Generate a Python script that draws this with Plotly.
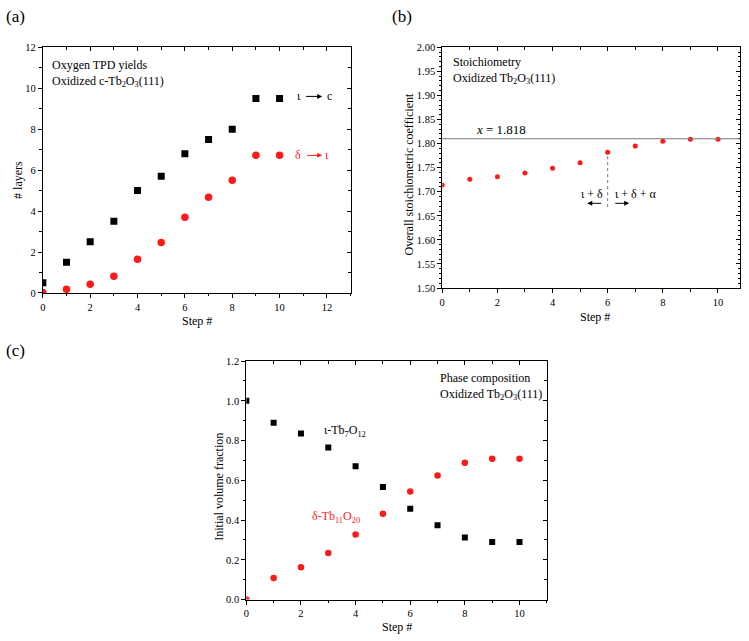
import plotly.graph_objects as go

# ---------------- data ----------------
steps = [0, 1, 2, 3, 4, 5, 6, 7, 8, 9, 10]
# (a) Oxygen TPD yields (# layers)
layers_iota_c = [0.5, 1.5, 2.5, 3.5, 5.0, 5.7, 6.8, 7.5, 8.0, 9.5, 9.5]
layers_delta_iota = [0.02, 0.18, 0.42, 0.82, 1.65, 2.47, 3.7, 4.68, 5.5, 6.73, 6.73]
# (b) Overall stoichiometric coefficient
stoich = [1.714, 1.726, 1.731, 1.739, 1.749, 1.760, 1.782, 1.795, 1.805, 1.809, 1.809]
stoich_ref = 1.81
# (c) Initial volume fraction
frac_iota = [1.0, 0.890, 0.836, 0.765, 0.671, 0.567, 0.457, 0.374, 0.312, 0.290, 0.290]
frac_delta = [0.0, 0.109, 0.163, 0.234, 0.328, 0.432, 0.544, 0.625, 0.689, 0.709, 0.709]

W, H = 749, 641
FONT = "Liberation Serif"
RED = "#ff1a1a"


def px(x):
    return x / W


def py(y):
    return 1 - y / H


fig = go.Figure()

# panel (a)
fig.add_trace(go.Scatter(x=steps, y=layers_iota_c, mode="markers", xaxis="x", yaxis="y",
                         marker=dict(symbol="square", size=7, color="black"), showlegend=False))
fig.add_trace(go.Scatter(x=steps, y=layers_delta_iota, mode="markers", xaxis="x", yaxis="y",
                         marker=dict(symbol="circle", size=7.5, color=RED), showlegend=False))
# panel (b)
fig.add_trace(go.Scatter(x=steps, y=stoich, mode="markers", xaxis="x2", yaxis="y2",
                         marker=dict(symbol="circle", size=5, color=RED), showlegend=False))
# panel (c)
fig.add_trace(go.Scatter(x=steps, y=frac_iota, mode="markers", xaxis="x3", yaxis="y3",
                         marker=dict(symbol="square", size=6, color="black"), showlegend=False))
fig.add_trace(go.Scatter(x=steps, y=frac_delta, mode="markers", xaxis="x3", yaxis="y3",
                         marker=dict(symbol="circle", size=6.5, color=RED), showlegend=False))

panels = [
    # main x, main y, overlay x, overlay y, xdomain, ydomain, xrange, yrange, xdtick, ydtick, xminor, yminor, yfmt
    ("x", "y", "x4", "y4", [px(40), px(349)], [py(293), py(43)], [0, 13], [0, 12], 2, 2, 1, 1, "d"),
    ("x2", "y2", "x5", "y5", [px(441), px(740)], [py(288), py(43)], [0, 10.8], [1.5, 2.0], 2, 0.05, 1, 0.01, ".2f"),
    ("x3", "y3", "x6", "y6", [px(244.3), px(546)], [py(605), py(362.3)], [0, 11], [0, 1.2], 2, 0.2, 1, 0.1, ".1f"),
]

tickfont = dict(family=FONT, size=10.5, color="black")
layout_axes = {}
for mx, my, ox, oy, xd, yd, xr, yr, xdt, ydt, xmn, ymn, yfmt in panels:
    mxn = "xaxis" + mx[1:]
    myn = "yaxis" + my[1:]
    oxn = "xaxis" + ox[1:]
    oyn = "yaxis" + oy[1:]
    layout_axes[mxn] = dict(domain=xd, range=xr, anchor=my, dtick=xdt, tick0=0,
                            showline=True, linecolor="black", linewidth=1, mirror=False,
                            ticks="outside", ticklen=4, tickwidth=1, tickcolor="black",
                            minor=dict(dtick=xmn, tick0=0, ticks="outside", ticklen=2.5,
                                       tickcolor="black", showgrid=False),
                            showgrid=False, zeroline=False, tickfont=tickfont)
    layout_axes[myn] = dict(domain=yd, range=yr, anchor=mx, dtick=ydt, tick0=0,
                            tickformat=yfmt,
                            showline=True, linecolor="black", linewidth=1, mirror=False,
                            ticks="outside", ticklen=4, tickwidth=1, tickcolor="black",
                            minor=dict(dtick=ymn, tick0=0, ticks="outside", ticklen=2.5,
                                       tickcolor="black", showgrid=False),
                            showgrid=False, zeroline=False, tickfont=tickfont)
    layout_axes[oxn] = dict(overlaying=mx, side="top", anchor=my, range=xr, dtick=xdt, tick0=0,
                            showline=True, linecolor="black", linewidth=1,
                            ticks="inside", ticklen=4, tickcolor="black",
                            minor=dict(dtick=xmn, tick0=0, ticks="inside", ticklen=2.5,
                                       tickcolor="black", showgrid=False),
                            showticklabels=False, showgrid=False, zeroline=False)
    layout_axes[oyn] = dict(overlaying=my, side="right", anchor=mx, range=yr, dtick=ydt, tick0=0,
                            showline=True, linecolor="black", linewidth=1,
                            ticks="inside", ticklen=4, tickcolor="black",
                            minor=dict(dtick=ymn, tick0=0, ticks="inside", ticklen=2.5,
                                       tickcolor="black", showgrid=False),
                            showticklabels=False, showgrid=False, zeroline=False)
    fig.add_trace(go.Scatter(x=[None], y=[None], xaxis=ox, yaxis=oy, mode="markers",
                             showlegend=False, hoverinfo="skip"))

ann = []


def text_px(t, x, y, size=12, color="black", xanchor="left", angle=0):
    ann.append(dict(text=t, x=px(x), y=py(y), xref="paper", yref="paper", showarrow=False,
                    xanchor=xanchor, yanchor="middle", textangle=angle, align="left",
                    font=dict(family=FONT, size=size, color=color)))


def text_data(t, x, y, xr, yr, size=12, color="black", xanchor="left"):
    ann.append(dict(text=t, x=x, y=y, xref=xr, yref=yr, showarrow=False,
                    xanchor=xanchor, yanchor="middle",
                    font=dict(family=FONT, size=size, color=color)))


def arrow_data(x0, x1, y, xr, yr, color="black"):
    ann.append(dict(text="", x=x1, y=y, ax=x0, ay=y, xref=xr, yref=yr, axref=xr, ayref=yr,
                    showarrow=True, arrowhead=2, arrowsize=1, arrowwidth=1, arrowcolor=color))


# panel labels
text_px("(a)", 1, 12, size=17)
text_px("(b)", 389, 12, size=17)
text_px("(c)", 1, 352, size=17)

# axis titles
text_px("# layers", 15, 178, xanchor="center", angle=-90)
text_px("Step #", 195, 322, xanchor="center")
text_px("Overall stoichiometric coefficient", 408, 172, xanchor="center", angle=-90)
text_px("Step #", 594, 317, xanchor="center")
text_px("Initial volume fraction", 216, 490, xanchor="center", angle=-90)
text_px("Step #", 396, 633, xanchor="center")

# panel (a) texts
text_px("Oxygen TPD yields<br>Oxidized c-Tb<sub>2</sub>O<sub>3</sub>(111)", 47, 70)
text_data("ι", 10.81, 9.6, "x", "y", xanchor="center")
arrow_data(11.05, 11.8, 9.6, "x", "y")
text_data("c", 12.12, 9.6, "x", "y", xanchor="center")
text_data("δ", 10.77, 6.72, "x", "y", color=RED, xanchor="center")
arrow_data(11.1, 11.8, 6.72, "x", "y", color=RED)
text_data("ι", 11.99, 6.72, "x", "y", color=RED, xanchor="center")

# panel (b) texts
text_px("Stoichiometry<br>Oxidized Tb<sub>2</sub>O<sub>3</sub>(111)", 450, 66.5)
text_data("<i>x</i> = 1.818", 1.16, 1.83, "x2", "y2", size=13)
text_data("ι + δ", 5.42, 1.695, "x2", "y2", xanchor="center")
text_data("ι + δ + α", 7.0, 1.695, "x2", "y2", xanchor="center")
arrow_data(5.82, 5.26, 1.676, "x2", "y2")
arrow_data(6.22, 6.78, 1.676, "x2", "y2")

# panel (c) texts
text_px("Phase composition<br>Oxidized Tb<sub>2</sub>O<sub>3</sub>(111)", 437, 388.5)
text_data("ι-Tb<sub>7</sub>O<sub>12</sub>", 2.76, 0.85, "x3", "y3")
text_data("δ-Tb<sub>11</sub>O<sub>20</sub>", 2.33, 0.415, "x3", "y3", color=RED)

shapes = [
    dict(type="line", xref="x2 domain", yref="y2", x0=0, x1=1, y0=stoich_ref, y1=stoich_ref,
         line=dict(color="#777777", width=1)),
    dict(type="line", xref="x2", yref="y2", x0=6, x1=6, y0=1.668, y1=1.775,
         line=dict(color="#777777", width=1, dash="dot")),
]

fig.update_layout(width=W, height=H, margin=dict(l=0, r=0, t=0, b=0),
                  paper_bgcolor="white", plot_bgcolor="white",
                  font=dict(family=FONT, color="black"),
                  annotations=ann, shapes=shapes, showlegend=False, **layout_axes)

fig.write_html("out.html")
